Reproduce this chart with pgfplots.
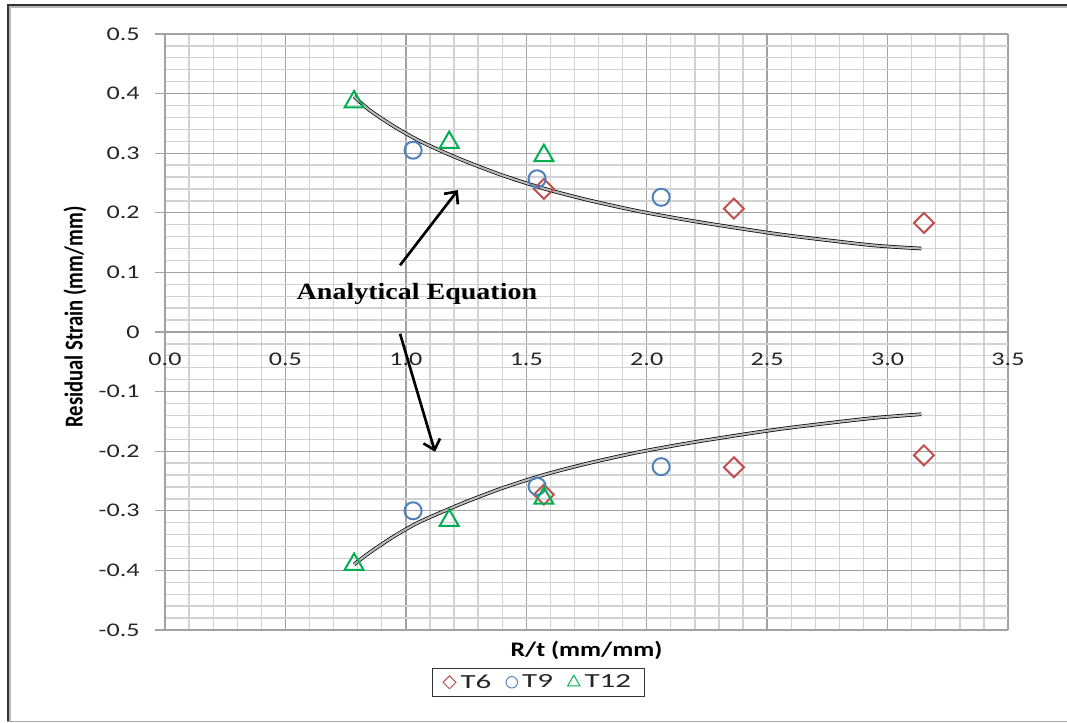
\documentclass[border=0pt]{standalone}
\usepackage{pgfplots}
\pgfplotsset{compat=1.18}
\usepackage{graphicx}
\usepackage{fontspec}
\setmainfont{Carlito}
\newfontfamily\timesfont{Liberation Serif}
\usetikzlibrary{arrows.meta}

\definecolor{tsix}{HTML}{C0504D}
\definecolor{tnine}{HTML}{4F81BD}
\definecolor{ttwelve}{HTML}{00B050}
\definecolor{minorgrid}{HTML}{D2D2D2}
\definecolor{majorgrid}{HTML}{A2A2A2}

% widened labels
\newcommand{\tl}[1]{\scalebox{1.35}[1]{#1}}
\newcommand{\legtext}[1]{\scalebox{1.55}[1]{#1}}
\newcommand{\tickfont}{\fontsize{14.5pt}{17pt}\selectfont}

% small legend marks
\pgfplotsset{
  smallmark/.style={legend image code/.code={%
    \draw[##1, mark size=#1, line width=0.7pt] plot coordinates {(0pt,0pt)};}},
}

\begin{document}
\begin{tikzpicture}
\useasboundingbox (-123.75pt,-69.75pt) rectangle (676.5pt,472.5pt);
\begin{axis}[
  at={(0pt,0pt)}, anchor=south west,
  scale only axis, width=632.25pt, height=447pt,
  xmin=0, xmax=3.5, ymin=-0.5, ymax=0.5,
  clip=false,
  axis x line*=middle, axis y line*=left,
  hide obscured x ticks=false, hide obscured y ticks=false,
  xtick={0,0.5,1,1.5,2,2.5,3,3.5},
  xticklabels={\tl{0.0},\tl{0.5},\tl{1.0},\tl{1.5},\tl{2.0},\tl{2.5},\tl{3.0},\tl{3.5}},
  ytick={-0.5,-0.4,-0.3,-0.2,-0.1,0,0.1,0.2,0.3,0.4,0.5},
  yticklabels={\tl{-0.5},\tl{-0.4},\tl{-0.3},\tl{-0.2},\tl{-0.1},\tl{0},\tl{0.1},\tl{0.2},\tl{0.3},\tl{0.4},\tl{0.5}},
  minor x tick num=4, minor y tick num=4,
  grid=both,
  minor grid style={minorgrid, line width=1pt},
  major grid style={majorgrid, line width=1pt},
  axis line style={majorgrid, line width=1pt},
  tick align=outside,
  major tick length=7.5pt, minor tick length=0pt,
  major x tick style={draw=none},
  ytick style={majorgrid, line width=1pt},
  tick label style={font=\tickfont, text=black!85},
  xticklabel style={yshift=-5pt},
  yticklabel style={xshift=-8pt},
  /pgf/number format/assume math mode=true,
  legend style={at={(0.443,-0.064)}, anchor=north, legend columns=3,
    draw=black!80, line width=0.6pt, font=\fontsize{15pt}{17pt}\selectfont,
    text=black!85, inner xsep=8pt, inner ysep=2.5pt,
    /tikz/every even column/.append style={column sep=9pt},
    /tikz/every odd column/.append style={column sep=1.5pt}},
  legend cell align=left,
]

% analytical equation, positive and negative branches
\addplot[forget plot, smooth, draw=black, line width=0.55pt, double=gray!55, double distance=1.6pt]
  coordinates {(0.785,0.395) (0.85,0.372) (0.95,0.345) (1.05,0.322) (1.15,0.303)
   (1.25,0.286) (1.40,0.263) (1.57,0.241) (1.75,0.222) (1.95,0.204) (2.15,0.189)
   (2.35,0.176) (2.55,0.164) (2.75,0.154) (2.95,0.145) (3.14,0.140)};
\addplot[forget plot, smooth, draw=black, line width=0.55pt, double=gray!55, double distance=1.6pt]
  coordinates {(0.785,-0.390) (0.85,-0.370) (0.95,-0.343) (1.05,-0.320) (1.15,-0.302)
   (1.25,-0.285) (1.40,-0.262) (1.57,-0.240) (1.75,-0.221) (1.95,-0.203) (2.15,-0.188)
   (2.35,-0.175) (2.55,-0.163) (2.75,-0.153) (2.95,-0.144) (3.14,-0.138)};

% T6
\addplot[tsix, only marks, mark=square, mark size=5.3pt, line width=1.5pt,
  mark options={rotate=45}, smallmark=3.4pt]
  coordinates {(1.573,0.240) (2.362,0.207) (3.151,0.183)
               (1.573,-0.273) (2.362,-0.227) (3.151,-0.207)};
\addlegendentry{\legtext{T6}}

% T9
\addplot[tnine, only marks, mark=o, mark size=6.4pt, line width=1.5pt, smallmark=4.3pt]
  coordinates {(1.030,0.305) (1.545,0.257) (2.060,0.226)
               (1.030,-0.300) (1.545,-0.259) (2.060,-0.226)};
\addlegendentry{\legtext{T9}}

% T12
\addplot[ttwelve, only marks, mark=triangle, mark size=8.2pt, line width=1.5pt, smallmark=5.3pt]
  coordinates {(0.785,0.386) (1.180,0.318) (1.573,0.296)
               (0.785,-0.390) (1.180,-0.316) (1.573,-0.279)};
\addlegendentry{\legtext{T12}}

% annotation
\draw[black, line width=2pt, -{Straight Barb[length=7pt,width=13pt]}]
  (axis cs:0.976,0.112) -- (axis cs:1.216,0.238);
\draw[black, line width=2pt, -{Straight Barb[length=7pt,width=13pt]}]
  (axis cs:0.976,-0.003) -- (axis cs:1.121,-0.201);
\node[font=\timesfont\bfseries\fontsize{17.5pt}{20pt}\selectfont, inner sep=0pt]
  at (axis cs:1.046,0.064) {\scalebox{1.2}[1]{Analytical Equation}};

% axis titles
\node[rotate=90, font=\bfseries\fontsize{15.5pt}{18pt}\selectfont, inner sep=0pt]
  at ([xshift=-67.5pt]rel axis cs:0,0.525) {\scalebox{1}[1.25]{Residual Strain (mm/mm)}};
\node[font=\bfseries\fontsize{15.5pt}{18pt}\selectfont, inner sep=0pt]
  at ([yshift=-15pt]rel axis cs:0.5,0) {\scalebox{1.25}[1]{R/t (mm/mm)}};
\end{axis}

% outer frame
\draw[gray!55, line width=1pt] (-116.2pt,-68pt) -- (-116.2pt,467.2pt) -- (690pt,467.2pt);
\draw[black!80, line width=1.6pt] (-117.75pt,-68.25pt) -- (-117.75pt,468.75pt) -- (690pt,468.75pt);
\draw[gray!70, line width=1.4pt] (-118.5pt,-68.6pt) -- (690pt,-68.6pt);
\end{tikzpicture}
\end{document}
